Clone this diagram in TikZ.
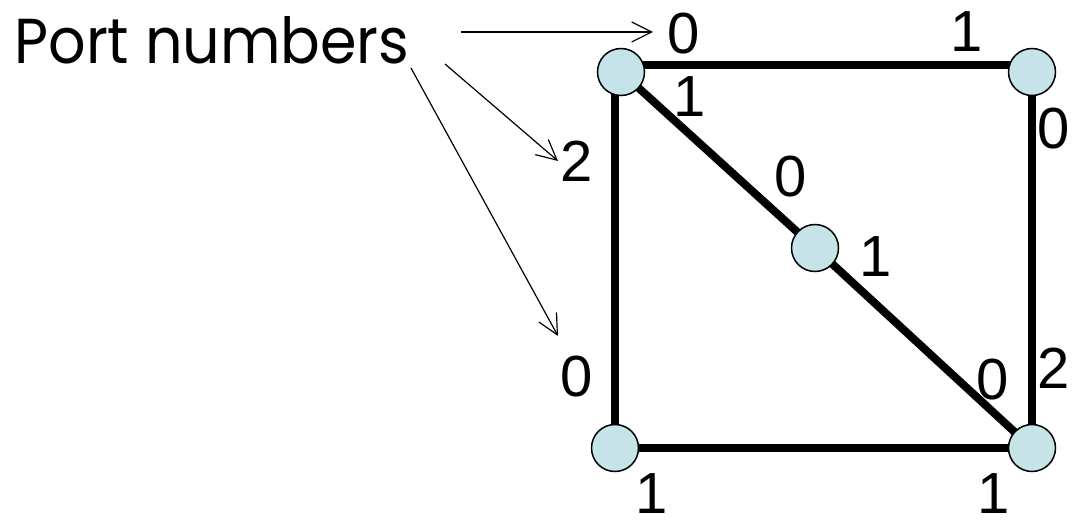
\documentclass[tikz,border=0pt]{standalone}
\usepackage{fontspec}
\usepackage{graphicx}
\setmainfont{Liberation Sans}
\newfontfamily\portfont{Poppins}
\usetikzlibrary{arrows.meta,backgrounds}
\definecolor{nodefill}{RGB}{197,227,232}
\begin{document}
\begin{tikzpicture}[x=1pt,y=-1pt,
  vtx/.style={circle, draw=black, line width=1.5pt, fill=nodefill, minimum size=47pt, inner sep=0pt},
  edge/.style={line width=8pt},
  lbl/.style={font=\fontsize{58}{60}\selectfont, inner sep=0pt},
  ptr/.style={line width=1.2pt, -{Straight Barb[length=20pt,width=20pt]}}]
\useasboundingbox (0,0) rectangle (1072,521);
% vertices
\node[vtx] (tl) at (621,72) {};
\node[vtx] (tr) at (1032,72) {};
\node[vtx] (bl) at (615,448) {};
\node[vtx] (br) at (1032,448) {};
\node[vtx] (c) at (815,248) {};
% edges
\begin{pgfonlayer}{background}
\draw[edge] ([yshift=7pt]tl.center) -- ([yshift=7pt]tr.center);
\draw[edge] (bl.center) -- (bl.center |- tl.center);
\draw[edge] (tr.center) -- (br.center);
\draw[edge] (bl.center) -- (br.center);
\draw[edge] (tl.center) -- (c.center) -- (br.center);
\end{pgfonlayer}
% port labels
\node[lbl] (p0a) at (684,34) {0};
\node[lbl] (p1a) at (690,97) {1};
\node[lbl] (p1b) at (967,32) {1};
\node[lbl] (p0b) at (1054,129) {0};
\node[lbl] (p2a) at (577,161) {2};
\node[lbl] (p0c) at (791,177) {0};
\node[lbl] (p1c) at (876,257) {1};
\node[lbl] (p0d) at (577,377) {0};
\node[lbl] (p0e) at (993,380) {0};
\node[lbl] (p2b) at (1054,368) {2};
\node[lbl] (p1d) at (652,494) {1};
\node[lbl] (p1e) at (994,494) {1};
% title
\node[inner sep=0pt] (title) at (212,40) {\resizebox{395pt}{47pt}{\portfont Port numbers}};
% pointers
\coordinate (s1) at (461,32); \coordinate (t1) at (653,32);
\coordinate (s2) at (445,64); \coordinate (t2) at (558,161);
\coordinate (s3) at (411,68); \coordinate (t3) at (558,336);
\draw[ptr] (s1) -- (t1);
\draw[ptr] (s2) -- (t2);
\draw[ptr] (s3) -- (t3);
\end{tikzpicture}
\end{document}
